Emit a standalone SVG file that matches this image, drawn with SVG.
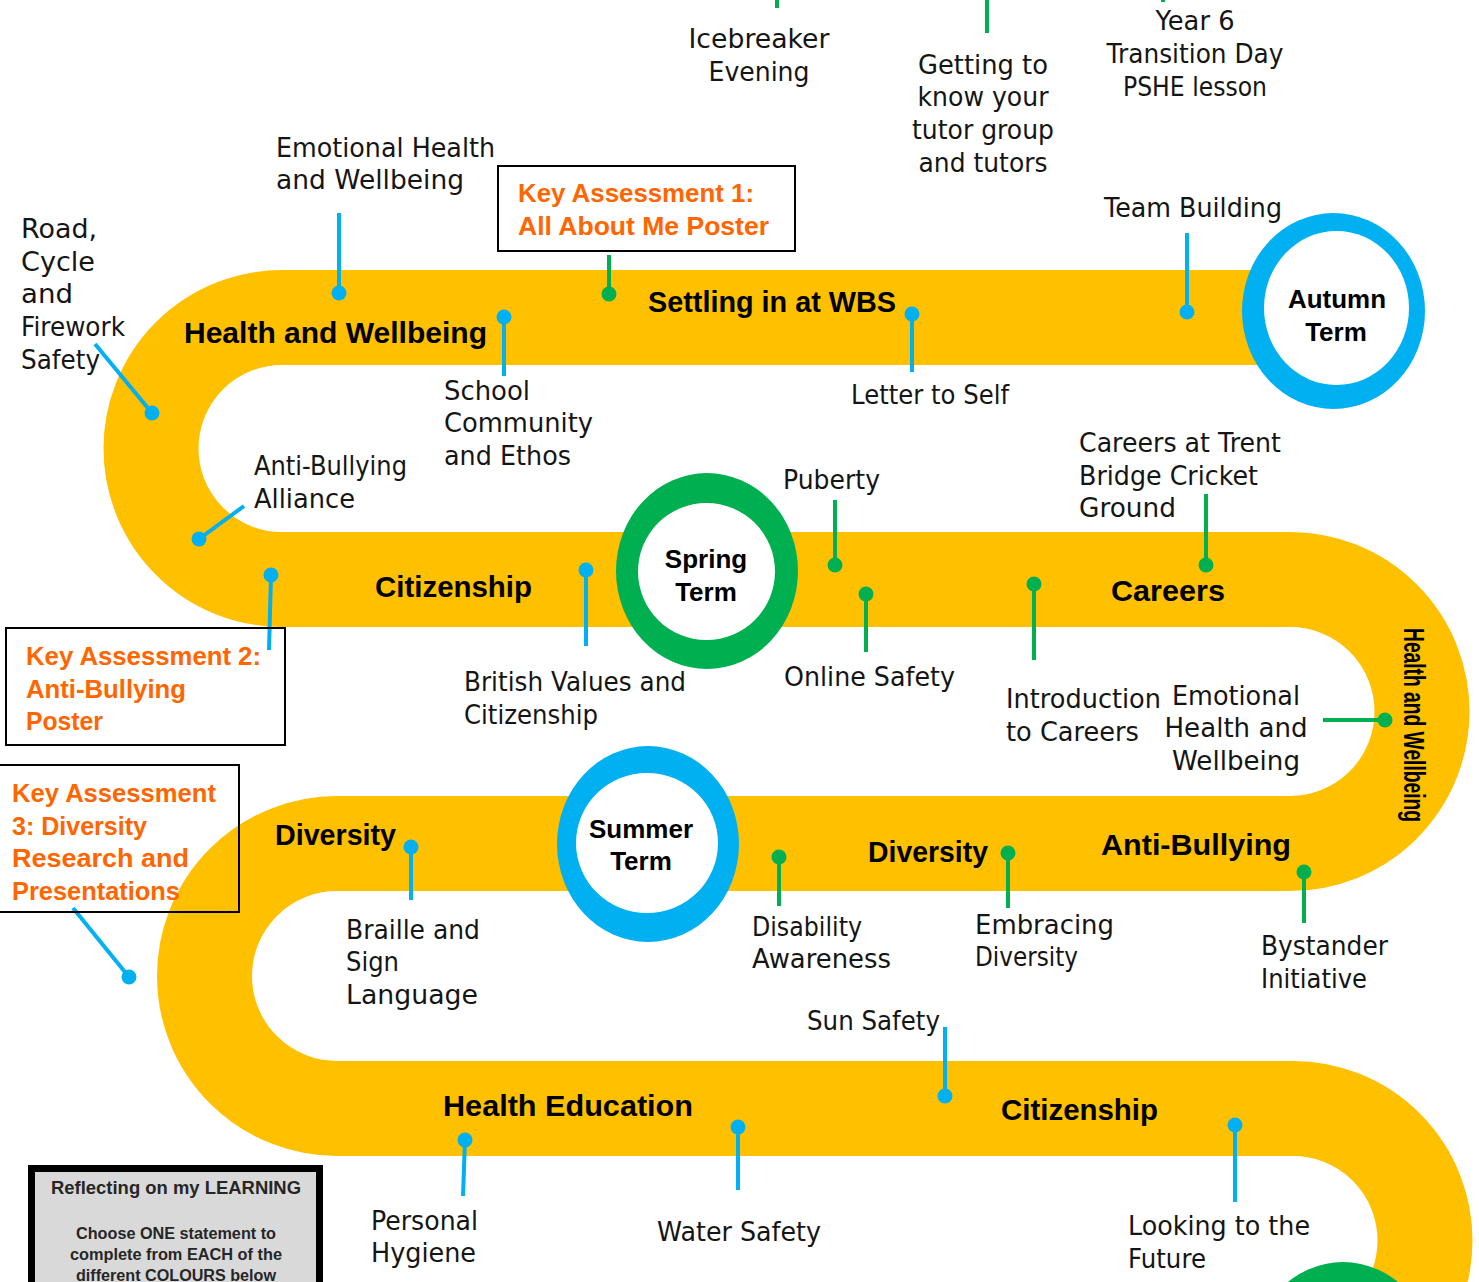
<svg xmlns="http://www.w3.org/2000/svg" width="1479" height="1282" viewBox="0 0 1479 1282">
<style>
.lbl{font-family:"DejaVu Sans","Liberation Sans",sans-serif;font-size:26px;fill:#151515}
.b{font-family:"Liberation Sans","DejaVu Sans",sans-serif;font-weight:bold;font-size:30px;fill:#000}
.t{font-family:"Liberation Sans","DejaVu Sans",sans-serif;font-weight:bold;font-size:26px;fill:#000;text-anchor:middle}
.ka{font-family:"Liberation Sans","DejaVu Sans",sans-serif;font-weight:bold;font-size:26px;fill:#FF6600}
.m{text-anchor:middle}
.bl{stroke:#00B0F0;stroke-width:4;fill:none}
.gl{stroke:#00B050;stroke-width:4;fill:none}
.bd{fill:#00B0F0}
.gd{fill:#00B050}
.box{fill:none;stroke:#000;stroke-width:2}
.rf{font-family:"Liberation Sans","DejaVu Sans",sans-serif;font-weight:bold;fill:#262626;text-anchor:middle}
</style>
<rect width="1479" height="1282" fill="#fff"/>
<g id="track">
<path d="M 1300 317.5 L 282 317.5 A 131 131 0 0 0 282 579.5 L 1290 579.5 A 132 132 0 0 1 1290 843.5 L 337 843.5 A 132.5 132.5 0 0 0 337 1108.5 L 1293 1108.5 A 132 132 0 0 1 1293 1372.5" fill="none" stroke="#FFC000" stroke-width="95"/>
</g>
<g id="autumn">
<ellipse cx="1333.5" cy="311" rx="91.5" ry="98" fill="#00B0F0"/>
<ellipse cx="1336.5" cy="308" rx="72.5" ry="77" fill="#fff"/>
<text class="t" x="1337" y="308" textLength="98" lengthAdjust="spacingAndGlyphs">Autumn</text>
<text class="t" x="1336" y="341">Term</text>
</g>
<g id="spring">
<ellipse cx="707" cy="571" rx="91" ry="98" fill="#00B050"/>
<ellipse cx="706.5" cy="571.5" rx="68.5" ry="68.5" fill="#fff"/>
<text class="t" x="706" y="568">Spring</text>
<text class="t" x="706" y="601">Term</text>
</g>
<g id="summer">
<ellipse cx="648" cy="844" rx="91" ry="98" fill="#00B0F0"/>
<ellipse cx="647" cy="843" rx="71" ry="70" fill="#fff"/>
<text class="t" x="641" y="838" textLength="104" lengthAdjust="spacingAndGlyphs">Summer</text>
<text class="t" x="641" y="870">Term</text>
</g>
<g id="next-term">
<ellipse cx="1343" cy="1360" rx="91" ry="98" fill="#00B050"/>
</g>
<g id="connectors">
<line class="gl" x1="777" y1="0" x2="777" y2="8"/>
<line class="gl" x1="987" y1="0" x2="987" y2="33"/>
<line class="gl" x1="1163" y1="0" x2="1163" y2="2"/>
<line class="bl" x1="339" y1="213" x2="339" y2="292"/><circle class="bd" cx="339" cy="293" r="7.5"/>
<line class="bl" x1="95" y1="344" x2="152" y2="413"/><circle class="bd" cx="152" cy="413" r="7.5"/>
<line class="bl" x1="244" y1="506" x2="199" y2="539"/><circle class="bd" cx="199" cy="539" r="7.5"/>
<line class="bl" x1="271" y1="575" x2="269" y2="650"/><circle class="bd" cx="271" cy="575" r="7.5"/>
<line class="gl" x1="609" y1="255" x2="609" y2="294"/><circle class="gd" cx="609" cy="294" r="7.5"/>
<line class="bl" x1="504" y1="317" x2="504" y2="376"/><circle class="bd" cx="504" cy="317" r="7.5"/>
<line class="bl" x1="912" y1="314" x2="912" y2="372"/><circle class="bd" cx="912" cy="314" r="7.5"/>
<line class="bl" x1="1187" y1="233" x2="1187" y2="312"/><circle class="bd" cx="1187" cy="312" r="7.5"/>
<line class="bl" x1="586" y1="570" x2="586" y2="646"/><circle class="bd" cx="586" cy="570" r="7.5"/>
<line class="gl" x1="835" y1="500" x2="835" y2="565"/><circle class="gd" cx="835" cy="565" r="7.5"/>
<line class="gl" x1="866" y1="594" x2="866" y2="652"/><circle class="gd" cx="866" cy="594" r="7.5"/>
<line class="gl" x1="1206" y1="494" x2="1206" y2="565"/><circle class="gd" cx="1206" cy="565" r="7.5"/>
<line class="gl" x1="1034" y1="584" x2="1034" y2="660"/><circle class="gd" cx="1034" cy="584" r="7.5"/>
<line class="gl" x1="1323" y1="720" x2="1385" y2="720"/><circle class="gd" cx="1385" cy="720" r="7.5"/>
<line class="bl" x1="73" y1="908" x2="129" y2="977"/><circle class="bd" cx="129" cy="977" r="7.5"/>
<line class="bl" x1="411" y1="847" x2="411" y2="900"/><circle class="bd" cx="411" cy="847" r="7.5"/>
<line class="gl" x1="779" y1="857" x2="779" y2="906"/><circle class="gd" cx="779" cy="857" r="7.5"/>
<line class="gl" x1="1008" y1="853" x2="1008" y2="908"/><circle class="gd" cx="1008" cy="853" r="7.5"/>
<line class="gl" x1="1304" y1="872" x2="1304" y2="923"/><circle class="gd" cx="1304" cy="872" r="7.5"/>
<line class="bl" x1="945" y1="1027" x2="945" y2="1096"/><circle class="bd" cx="945" cy="1096" r="7.5"/>
<line class="bl" x1="465" y1="1140" x2="463" y2="1196"/><circle class="bd" cx="465" cy="1140" r="7.5"/>
<line class="bl" x1="738" y1="1127" x2="738" y2="1190"/><circle class="bd" cx="738" cy="1127" r="7.5"/>
<line class="bl" x1="1235" y1="1125" x2="1235" y2="1202"/><circle class="bd" cx="1235" cy="1125" r="7.5"/>
</g>
<g id="topics">
<text class="b" x="184" y="343" textLength="303" lengthAdjust="spacingAndGlyphs">Health and Wellbeing</text>
<text class="b" x="648" y="312" textLength="248" lengthAdjust="spacingAndGlyphs">Settling in at WBS</text>
<text class="b" x="375" y="597" textLength="157" lengthAdjust="spacingAndGlyphs">Citizenship</text>
<text class="b" x="1111" y="601" textLength="114" lengthAdjust="spacingAndGlyphs">Careers</text>
<text class="b" x="275" y="845" textLength="121" lengthAdjust="spacingAndGlyphs">Diversity</text>
<text class="b" x="868" y="862" textLength="120" lengthAdjust="spacingAndGlyphs">Diversity</text>
<text class="b" x="1101" y="855" textLength="190" lengthAdjust="spacingAndGlyphs">Anti-Bullying</text>
<text class="b" x="443" y="1116" textLength="250" lengthAdjust="spacingAndGlyphs">Health Education</text>
<text class="b" x="1001" y="1120" textLength="157" lengthAdjust="spacingAndGlyphs">Citizenship</text>
<text class="b" transform="translate(1404,725) rotate(90)" x="0" y="0" text-anchor="middle" font-size="31" textLength="194" lengthAdjust="spacingAndGlyphs">Health and Wellbeing</text>
</g>
<g id="key-assessment-1">
<rect class="box" x="498" y="166" width="297" height="85" fill="#fff"/>
<text class="ka" x="518" y="202" textLength="236" lengthAdjust="spacingAndGlyphs">Key Assessment 1:</text>
<text class="ka" x="518" y="235" textLength="251" lengthAdjust="spacingAndGlyphs">All About Me Poster</text>
</g>
<g id="key-assessment-2">
<rect class="box" x="6" y="628" width="279" height="117"/>
<text class="ka" x="26" y="665" textLength="235" lengthAdjust="spacingAndGlyphs">Key Assessment 2:</text>
<text class="ka" x="26" y="698" textLength="160" lengthAdjust="spacingAndGlyphs">Anti-Bullying</text>
<text class="ka" x="26" y="730" textLength="77" lengthAdjust="spacingAndGlyphs">Poster</text>
</g>
<g id="key-assessment-3">
<rect class="box" x="-2" y="765" width="241" height="147"/>
<text class="ka" x="12" y="802" textLength="204" lengthAdjust="spacingAndGlyphs">Key Assessment</text>
<text class="ka" x="12" y="835" textLength="135" lengthAdjust="spacingAndGlyphs">3: Diversity</text>
<text class="ka" x="12" y="867" textLength="177" lengthAdjust="spacingAndGlyphs">Research and</text>
<text class="ka" x="12" y="900" textLength="168" lengthAdjust="spacingAndGlyphs">Presentations</text>
</g>
<g id="labels">
<g id="icebreaker"><text class="lbl m" x="759" y="48" textLength="141" lengthAdjust="spacingAndGlyphs">Icebreaker</text><text class="lbl m" x="759" y="81" textLength="101" lengthAdjust="spacingAndGlyphs">Evening</text></g>
<g id="getting-to-know"><text class="lbl m" x="983" y="74" textLength="130" lengthAdjust="spacingAndGlyphs">Getting to</text><text class="lbl m" x="983" y="106" textLength="131" lengthAdjust="spacingAndGlyphs">know your</text><text class="lbl m" x="983" y="139" textLength="142" lengthAdjust="spacingAndGlyphs">tutor group</text><text class="lbl m" x="983" y="172" textLength="129" lengthAdjust="spacingAndGlyphs">and tutors</text></g>
<g id="year6"><text class="lbl m" x="1195" y="30" textLength="79" lengthAdjust="spacingAndGlyphs">Year 6</text><text class="lbl m" x="1195" y="63" textLength="177" lengthAdjust="spacingAndGlyphs">Transition Day</text><text class="lbl m" x="1195" y="96" textLength="144" lengthAdjust="spacingAndGlyphs">PSHE lesson</text></g>
<g id="emotional-health-1"><text class="lbl" x="276" y="157" textLength="219" lengthAdjust="spacingAndGlyphs">Emotional Health</text><text class="lbl" x="276" y="189" textLength="188" lengthAdjust="spacingAndGlyphs">and Wellbeing</text></g>
<g id="road-safety"><text class="lbl" x="21" y="238" textLength="76" lengthAdjust="spacingAndGlyphs">Road,</text><text class="lbl" x="21" y="271" textLength="74" lengthAdjust="spacingAndGlyphs">Cycle</text><text class="lbl" x="21" y="303" textLength="52" lengthAdjust="spacingAndGlyphs">and</text><text class="lbl" x="21" y="336" textLength="104" lengthAdjust="spacingAndGlyphs">Firework</text><text class="lbl" x="21" y="369" textLength="79" lengthAdjust="spacingAndGlyphs">Safety</text></g>
<g id="team-building"><text class="lbl" x="1104" y="217" textLength="178" lengthAdjust="spacingAndGlyphs">Team Building</text></g>
<g id="school-community"><text class="lbl" x="444" y="400" textLength="86" lengthAdjust="spacingAndGlyphs">School</text><text class="lbl" x="444" y="432" textLength="149" lengthAdjust="spacingAndGlyphs">Community</text><text class="lbl" x="444" y="465" textLength="127" lengthAdjust="spacingAndGlyphs">and Ethos</text></g>
<g id="letter-to-self"><text class="lbl" x="851" y="404" textLength="158" lengthAdjust="spacingAndGlyphs">Letter to Self</text></g>
<g id="careers-trent"><text class="lbl" x="1079" y="452" textLength="202" lengthAdjust="spacingAndGlyphs">Careers at Trent</text><text class="lbl" x="1079" y="485" textLength="179" lengthAdjust="spacingAndGlyphs">Bridge Cricket</text><text class="lbl" x="1079" y="517" textLength="97" lengthAdjust="spacingAndGlyphs">Ground</text></g>
<g id="anti-bullying-alliance"><text class="lbl" x="254" y="475" textLength="153" lengthAdjust="spacingAndGlyphs">Anti-Bullying</text><text class="lbl" x="254" y="508" textLength="101" lengthAdjust="spacingAndGlyphs">Alliance</text></g>
<g id="puberty"><text class="lbl" x="783" y="489" textLength="97" lengthAdjust="spacingAndGlyphs">Puberty</text></g>
<g id="british-values"><text class="lbl" x="464" y="691" textLength="222" lengthAdjust="spacingAndGlyphs">British Values and</text><text class="lbl" x="464" y="724" textLength="134" lengthAdjust="spacingAndGlyphs">Citizenship</text></g>
<g id="online-safety"><text class="lbl" x="784" y="686" textLength="171" lengthAdjust="spacingAndGlyphs">Online Safety</text></g>
<g id="intro-careers"><text class="lbl" x="1006" y="708" textLength="155" lengthAdjust="spacingAndGlyphs">Introduction</text><text class="lbl" x="1006" y="741" textLength="133" lengthAdjust="spacingAndGlyphs">to Careers</text></g>
<g id="emotional-health-2"><text class="lbl m" x="1236" y="705" textLength="128" lengthAdjust="spacingAndGlyphs">Emotional</text><text class="lbl m" x="1236" y="737" textLength="143" lengthAdjust="spacingAndGlyphs">Health and</text><text class="lbl m" x="1236" y="770" textLength="128" lengthAdjust="spacingAndGlyphs">Wellbeing</text></g>
<g id="braille"><text class="lbl" x="346" y="939" textLength="134" lengthAdjust="spacingAndGlyphs">Braille and</text><text class="lbl" x="346" y="971" textLength="53" lengthAdjust="spacingAndGlyphs">Sign</text><text class="lbl" x="346" y="1004" textLength="132" lengthAdjust="spacingAndGlyphs">Language</text></g>
<g id="disability"><text class="lbl" x="752" y="936" textLength="110" lengthAdjust="spacingAndGlyphs">Disability</text><text class="lbl" x="752" y="968" textLength="139" lengthAdjust="spacingAndGlyphs">Awareness</text></g>
<g id="embracing"><text class="lbl" x="975" y="934" textLength="139" lengthAdjust="spacingAndGlyphs">Embracing</text><text class="lbl" x="975" y="966" textLength="103" lengthAdjust="spacingAndGlyphs">Diversity</text></g>
<g id="bystander"><text class="lbl" x="1261" y="955" textLength="127" lengthAdjust="spacingAndGlyphs">Bystander</text><text class="lbl" x="1261" y="988" textLength="106" lengthAdjust="spacingAndGlyphs">Initiative</text></g>
<g id="sun-safety"><text class="lbl" x="807" y="1030" textLength="133" lengthAdjust="spacingAndGlyphs">Sun Safety</text></g>
<g id="personal-hygiene"><text class="lbl" x="371" y="1230" textLength="107" lengthAdjust="spacingAndGlyphs">Personal</text><text class="lbl" x="371" y="1262" textLength="105" lengthAdjust="spacingAndGlyphs">Hygiene</text></g>
<g id="water-safety"><text class="lbl" x="657" y="1241" textLength="164" lengthAdjust="spacingAndGlyphs">Water Safety</text></g>
<g id="looking-future"><text class="lbl" x="1128" y="1235" textLength="182" lengthAdjust="spacingAndGlyphs">Looking to the</text><text class="lbl" x="1128" y="1268" textLength="78" lengthAdjust="spacingAndGlyphs">Future</text></g>
</g>
<g id="reflecting">
<rect x="31.5" y="1168.5" width="288" height="200" fill="#d9d9d9" stroke="#000" stroke-width="7"/>
<text class="rf" x="176" y="1194" font-size="18" textLength="250" lengthAdjust="spacingAndGlyphs">Reflecting on my LEARNING</text>
<text class="rf" x="176" y="1239" font-size="16" textLength="200" lengthAdjust="spacingAndGlyphs">Choose ONE statement to</text>
<text class="rf" x="176" y="1260" font-size="16" textLength="212" lengthAdjust="spacingAndGlyphs">complete from EACH of the</text>
<text class="rf" x="176" y="1281" font-size="16" textLength="200" lengthAdjust="spacingAndGlyphs">different COLOURS below</text>
</g>
</svg>
